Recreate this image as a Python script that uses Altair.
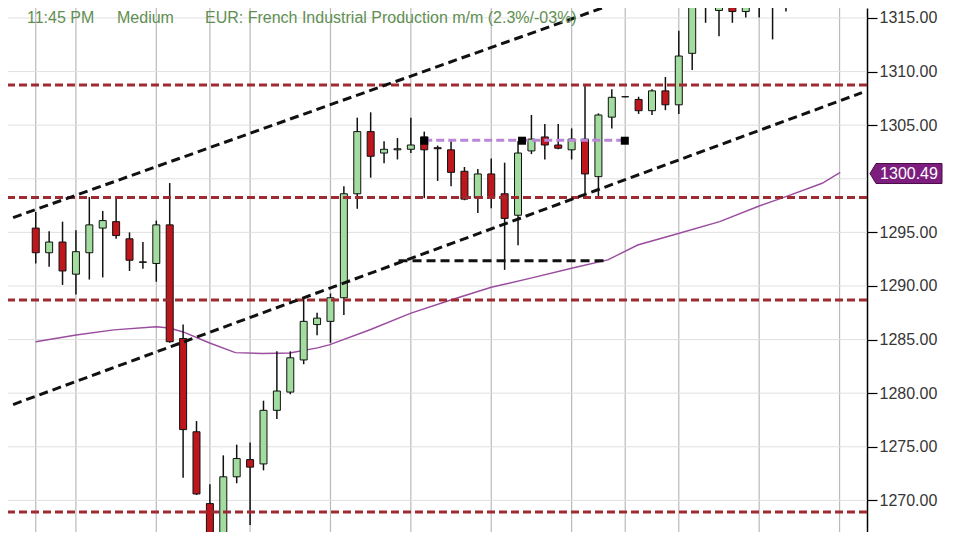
import altair as alt
import pandas as pd

# ---------------- data ----------------
idx = list(range(62))
opens = [1295.4, 1293.1, 1294.1, 1291.1, 1293.1, 1295.4, 1296.0, 1294.4, 1292.2, 1292.1,
         1295.7, 1285.1, 1276.4, 1269.7, 1264.5, 1272.2, 1273.8, 1273.4, 1278.4, 1280.1,
         1283.1, 1286.4, 1286.7, 1288.9, 1298.6, 1304.4, 1302.4, 1302.7, 1302.75, 1303.9,
         1302.9, 1302.7, 1300.7, 1298.2, 1300.45, 1298.6, 1296.6, 1302.6, 1303.9, 1303.15,
         1302.7, 1303.7, 1300.2, 1305.75, 1307.65, 1307.4, 1306.35, 1308.2, 1306.9, 1311.7,
         1317.5, 1315.7, 1316.1, 1315.6, 1316.05, 1318.5, 1317.3, 1317.9, 1318.3, 1317.6,
         1318.1, 1317.4]
highs = [1296.9, 1295.1, 1296.0, 1295.2, 1298.3, 1297.0, 1298.3, 1295.0, 1294.1, 1296.1,
         1299.6, 1286.4, 1277.4, 1271.5, 1274.2, 1275.2, 1275.4, 1279.3, 1283.9, 1283.9,
         1288.9, 1287.5, 1289.3, 1299.3, 1305.7, 1306.2, 1303.5, 1303.8, 1305.7, 1304.4,
         1303.1, 1303.7, 1301.1, 1300.9, 1301.9, 1301.5, 1303.5, 1305.95, 1305.1, 1305.1,
         1304.7, 1308.75, 1306.1, 1308.35, 1307.7, 1307.65, 1308.35, 1309.5, 1313.8, 1319.0,
         1318.5, 1317.2, 1317.0, 1317.0, 1317.5, 1319.2, 1318.4, 1319.0, 1319.3, 1318.6,
         1319.0, 1318.2]
lows = [1292.1, 1291.8, 1290.1, 1289.2, 1290.6, 1290.8, 1294.4, 1291.4, 1291.6, 1290.4,
        1284.7, 1272.1, 1270.5, 1263.0, 1263.5, 1271.6, 1267.7, 1272.8, 1277.6, 1279.9,
        1282.7, 1285.4, 1284.7, 1287.3, 1297.2, 1300.1, 1301.45, 1301.8, 1302.4, 1298.2,
        1299.8, 1299.3, 1298.0, 1296.8, 1297.25, 1291.5, 1293.8, 1302.3, 1301.8, 1302.75,
        1301.8, 1298.65, 1298.3, 1304.7, 1307.6, 1306.05, 1305.95, 1306.4, 1306.05, 1310.15,
        1314.55, 1313.3, 1314.55, 1315.05, 1315.05, 1313.0, 1315.6, 1316.6, 1316.9, 1316.8,
        1316.05, 1316.05]
closes = [1293.1, 1294.1, 1291.4, 1293.2, 1295.7, 1296.1, 1294.7, 1292.4, 1292.25, 1295.7,
          1284.8, 1276.6, 1270.6, 1264.0, 1272.2, 1273.9, 1273.1, 1278.4, 1280.2, 1283.3,
          1286.7, 1287.0, 1288.9, 1298.6, 1304.4, 1302.1, 1302.75, 1302.8, 1303.15, 1302.7,
          1302.8, 1300.6, 1298.1, 1300.45, 1298.2, 1296.3, 1302.4, 1303.7, 1303.15, 1302.85,
          1303.7, 1300.45, 1305.95, 1307.6, 1307.65, 1306.35, 1308.2, 1306.9, 1311.45, 1318.0,
          1316.0, 1316.0, 1315.6, 1316.4, 1317.0, 1317.3, 1317.9, 1318.3, 1317.6, 1318.1,
          1317.4, 1317.8]

ma_i = [0, 3.02, 5.83, 9.0, 9.96, 11.0, 12.98, 14.9, 16.9, 18.96, 21.03, 21.9, 25.0, 27.96,
        30.98, 34.0, 37.03, 40.0, 42.7, 44.93, 48.03, 51.05, 54.0, 56.0, 58.7, 60.05]
ma_v = [1284.80, 1285.43, 1285.90, 1286.20, 1286.08, 1285.71, 1284.68, 1283.78, 1283.70,
        1283.75, 1284.22, 1284.50, 1285.94, 1287.45, 1288.69, 1289.88, 1290.75, 1291.65,
        1292.43, 1293.82, 1294.92, 1296.00, 1297.46, 1298.33, 1299.58, 1300.59]

grid_idx = [0, 3, 9, 13, 16, 22, 28, 34, 40, 44, 48, 54, 60]
grid_vals = [1270, 1275, 1280, 1285, 1290, 1295, 1300, 1305, 1310, 1315]
label_vals = [1270, 1275, 1280, 1285, 1290, 1295, 1305, 1310, 1315]
sr_levels = [1308.75, 1298.26, 1288.69, 1268.92]

upper_i = [-1.69, 43.97]
upper_v = [1296.38, 1316.68]
lower_i = [-1.69, 61.67]
lower_v = [1278.94, 1308.03]
flat_i = [27.08, 42.7]
flat_v = [1292.36, 1292.36]
purple_i = [29.0, 43.97]
purple_v = [1303.6, 1303.6]
marker_i = [29.0, 36.3, 43.97]
marker_v = [1303.55, 1303.55, 1303.55]

last_price = [1300.49]
header = ["11:45 PM", "Medium", "EUR: French Industrial Production m/m (2.3%/-03%)"]

# ---------------- tables ----------------
cdf = pd.DataFrame({"i": idx, "o": opens, "h": highs, "l": lows, "c": closes})
cdf["dir"] = ["up" if c >= o else "down" for o, c in zip(opens, closes)]
madf = pd.DataFrame({"i": ma_i, "v": ma_v})
gxdf = pd.DataFrame({"i": grid_idx})
gydf = pd.DataFrame({"v": grid_vals})
srdf = pd.DataFrame({"v": sr_levels})
updf = pd.DataFrame({"i": upper_i, "v": upper_v})
lodf = pd.DataFrame({"i": lower_i, "v": lower_v})
fldf = pd.DataFrame({"i": flat_i, "v": flat_v})
pudf = pd.DataFrame({"i": purple_i, "v": purple_v})
mkdf = pd.DataFrame({"i": marker_i, "v": marker_v})
pxdf = pd.DataFrame({"v": last_price, "t": ["%.2f" % p for p in last_price]})
one = pd.DataFrame({"k": [0]})

# ---------------- scales / axes ----------------
xs = alt.Scale(domain=[-1.697, 61.675], nice=False, zero=False)
ys = alt.Scale(domain=[1267.05, 1315.93], nice=False, zero=False)
yax = alt.Axis(orient="right", values=label_vals, format=".2f", grid=False, title=None,
               domainColor="#000000", domainWidth=1.5, tickColor="#000000", tickWidth=1.2,
               tickSize=10, labelFont="Liberation Sans", labelFontSize=16,
               labelColor="#363636", labelPadding=2)

X = lambda f="i": alt.X(f"{f}:Q", scale=xs, axis=None)
Y = lambda f="v": alt.Y(f"{f}:Q", scale=ys, axis=yax)

vgrid = alt.Chart(gxdf).mark_rule(color="#bababa", strokeWidth=1.2).encode(x=X())
hgrid = alt.Chart(gydf).mark_rule(color="#e0e0e0", strokeWidth=1).encode(y=Y())

ma = alt.Chart(madf).mark_line(color="#9a4c9e", strokeWidth=1.4, clip=True).encode(
    x=X(), y=Y(), order="i:Q")

wicks = alt.Chart(cdf).mark_rule(color="#111111", strokeWidth=1.5, clip=True).encode(
    x=X(), y=Y("l"), y2="h:Q")
bodies = alt.Chart(cdf).mark_bar(width=7, stroke="#111111", strokeWidth=1, clip=True).encode(
    x=X(), y=Y("o"), y2="c:Q",
    color=alt.Color("dir:N", scale=alt.Scale(domain=["up", "down"],
                                               range=["#a2dc9f", "#bd161d"]), legend=None))

sr = alt.Chart(srdf).mark_rule(color="#9e2b30", strokeWidth=3, strokeDash=[8, 4]).encode(y=Y())

def dline(df, color, dash=(9, 5), width=3):
    return alt.Chart(df).mark_line(color=color, strokeWidth=width, strokeDash=list(dash),
                                   clip=True).encode(x=X(), y=Y(), order="i:Q")

upper = dline(updf, "#111111")
lower = dline(lodf, "#111111")
flat = dline(fldf, "#111111")
purp = dline(pudf, "#b987d6", dash=(8, 4))
marks = alt.Chart(mkdf).mark_square(size=64, color="#000000", opacity=1, filled=True).encode(
    x=X(), y=Y())

hdr_x = [19, 109, 197]
hdr = [alt.Chart(one).mark_text(text=t, align="left", baseline="alphabetic",
                                font="Liberation Sans", fontSize=16, color="#5f8f52")
       .encode(x=alt.value(px), y=alt.value(14.5)) for t, px in zip(header, hdr_x)]

tag_path = "M-1,0L-0.833,-0.278L1,-0.278L1,0.278L-0.833,0.278Z"
tag = alt.Chart(pxdf).mark_point(shape=tag_path, size=5184, filled=True, color="#7d1d7e",
                                 stroke="#4a0d4a", strokeWidth=1, opacity=1).encode(
    x=alt.value(898), y=Y())
tagtxt = alt.Chart(pxdf).mark_text(font="Liberation Sans", fontSize=16, color="#ffffff",
                                   align="center", baseline="middle").encode(
    x=alt.value(901), y=Y(), text="t:N")

chart = alt.layer(vgrid, hgrid, ma, wicks, bodies, sr, upper, lower, flat, purp, marks,
                  *hdr, tag, tagtxt).properties(
    width=859, height=524, background="#ffffff",
    padding={"left": 0, "top": 0, "right": 85, "bottom": 0},
    autosize=alt.AutoSizeParams(type="none")
).configure_view(stroke=None)

chart.save("out.html", embed_options={"renderer": "svg", "actions": False})
